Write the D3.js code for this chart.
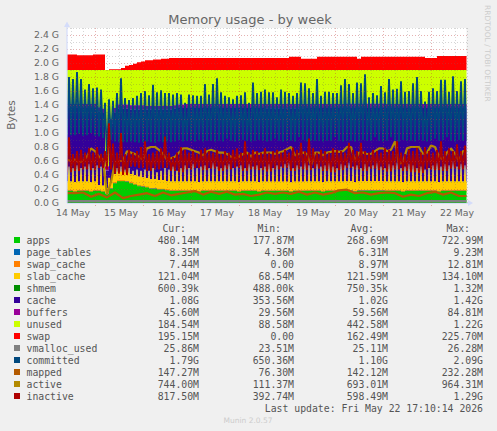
<!DOCTYPE html>
<html>
<head>
<meta charset="utf-8">
<script src="https://cdn.jsdelivr.net/npm/d3@7"></script>
<style>
  html, body { margin: 0; background: #f0f0f0; }
  svg { display: block; }
  text { font-family: "DejaVu Sans", sans-serif; fill: #666; }
  .mono { font-family: "DejaVu Sans Mono", monospace; font-size: 9.8px; fill: #555; }
</style>
</head>
<body>
<script>
// all values in G, one slot = 2 hours
const ramTotal = 1.9;
const apps = [
  .17,.17,.16,.17,.17,.17,.16,.17,.17,.16,
  .13,.20,.28,.31,.31,.30,.28,.26,.24,.23,
  .22,.20,.20,.19,.19,.18,.17,.17,.17,.17,
  .17,.17,.17,.16,.17,.17,.17,.17,.17,.17,
  .17,.17,.17,.16,.17,.17,.17,.17,.16,.17,
  .17,.17,.17,.17,.17,.17,.16,.17,.17,.17,
  .17,.17,.17,.17,.16,.17,.17,.17,.17,.17,
  .17,.17,.16,.17,.17,.17,.17,.17,.17,.17,
  .17,.17,.17,.17,.16,.17,.17,.17,.17,.17,
  .17,.17,.17,.16,.17,.17,.17,.17,.17,.17];
const pageTables = [.006,.006,.006,.006,.006,.005,.006,.007,.006,.006];
const swapCache = [.009,.009,.009,.009,.009,.008,.009,.009,.009,.009];
const slabCache = [.12,.12,.07,.12,.12,.12,.12,.12,.12,.12,.12,.12,.12,.12,.12,.12,.12,.12,.12,.12,.12,.12,.12,.12,.12];
const shmem = [.001,.001,.001,.001,.001];
const cache = [
  1.05,1.05,1.06,1.05,1.05,1.05,1.06,1.05,1.05,1.04,
  .25,.85,.88,.90,.90,.91,.92,.94,.96,.97,
  .98,1.00,1.00,1.01,1.01,1.02,1.03,1.04,1.05,1.05,
  1.05,1.05,1.05,1.06,1.05,1.05,1.05,1.05,1.05,1.05,
  1.05,1.05,1.05,1.06,1.05,1.05,1.05,1.05,1.06,1.05,
  1.05,1.05,1.05,1.05,1.05,1.05,1.06,1.05,1.05,1.05,
  1.05,1.05,1.05,1.05,1.06,1.05,1.05,1.05,1.05,1.05,
  1.05,1.05,1.06,1.05,1.05,1.05,1.05,1.05,1.05,1.05,
  1.05,1.05,1.05,1.05,1.06,1.05,1.05,1.05,1.05,1.05,
  1.05,1.05,1.05,1.06,1.05,1.05,1.05,1.05,1.05,1.05];
const buffers = [.06,.06,.05,.06,.06,.06,.06,.06,.06,.06];
const swap = [
  .22,.22,.22,.21,.21,.21,.21,.22,.22,.22,
  0,.01,.01,.01,.03,.06,.07,.09,.11,.12,
  .14,.14,.15,.15,.16,.16,.17,.17,.17,.17,
  .17,.17,.17,.17,.17,.17,.17,.17,.17,.17,
  .17,.17,.17,.17,.17,.17,.17,.17,.17,.17,
  .17,.17,.17,.17,.17,.17,.19,.19,.19,.16,
  .16,.16,.16,.19,.19,.19,.19,.19,.19,.19,
  .19,.19,.19,.16,.19,.19,.19,.19,.19,.19,
  .19,.19,.19,.19,.19,.19,.19,.19,.19,.19,
  .17,.17,.17,.20,.20,.20,.20,.20,.20,.20];
const slabPeak = [
  .52,.50,.54,.50,.52,.56,.50,.54,.52,.48,
  .36,.44,.50,.52,.48,.50,.46,.48,.46,.48,
  .46,.50,.44,.46,.50,.48,.52,.46,.50,.54,
  .50,.56,.50,.52,.54,.50,.58,.52,.50,.54,
  .56,.50,.52,.54,.50,.56,.52,.54,.50,.52,
  .56,.50,.54,.52,.56,.58,.50,.54,.52,.58,
  .54,.50,.56,.52,.54,.58,.52,.50,.56,.54,
  .58,.52,.54,.50,.56,.52,.54,.58,.52,.50,
  .56,.54,.58,.50,.52,.56,.54,.50,.52,.48,
  .50,.54,.58,.52,.56,.54,.60,.52,.56,.54];
const committedPeak = [
  1.80,1.77,1.87,1.77,1.62,1.70,1.64,1.65,1.62,1.43,
  1.48,1.46,1.57,1.78,1.50,1.47,1.50,1.53,1.57,1.60,
  1.54,1.69,1.58,1.61,1.57,1.57,1.55,1.57,1.55,1.43,
  1.55,1.54,1.53,1.53,1.70,1.55,1.70,1.78,1.58,1.53,
  1.51,1.48,1.53,1.54,1.58,1.43,1.72,1.57,1.59,1.62,
  1.58,1.58,1.51,1.62,1.59,1.57,1.53,1.57,1.72,1.71,
  1.64,1.57,1.77,1.53,1.59,1.59,1.57,1.57,1.68,1.77,
  1.70,1.57,1.72,1.71,1.84,1.51,1.57,1.54,1.67,1.58,
  1.77,1.62,1.63,1.74,1.59,1.60,1.71,1.80,1.60,1.45,
  1.59,1.64,1.60,1.76,1.76,1.59,1.81,1.60,1.74,1.77];
const committedLow = [
  .97,.97,.97,.99,.96,.97,1.00,.96,.95,.93,
  .65,.90,.88,.87,.87,.87,.88,.87,.86,.87,
  .88,.87,.86,.88,.87,.88,.87,.88,.90,.88,
  .89,.89,.88,.90,.88,.89,.89,.88,.89,.88,
  .92,.89,.88,.89,.90,.89,.88,.89,.90,.89,
  .88,.89,.92,.89,.88,.89,.89,.88,.94,.90,
  .88,.89,.89,.89,.88,.89,.89,.94,.89,.88,
  .89,.89,.88,.89,.90,.89,.89,.94,.89,.88,
  .89,.94,.89,.88,.90,.89,.89,.88,.90,.89,
  .88,.89,.92,.89,.90,.94,.89,.88,.90,.89];
const inactivePeak = [
  .94,.70,.74,.76,.72,.78,.72,.80,.70,.74,
  1.14,.85,.72,1.00,.70,.76,.72,.74,.80,.88,
  .70,.72,.74,.78,.95,.72,.66,.72,.80,.76,
  .72,.74,.70,.76,.78,.74,.72,.76,.70,.74,
  .72,.76,.78,.72,.88,.72,.76,.74,.72,.78,
  .72,.74,.76,.72,.76,.72,.79,.76,.86,.74,
  .92,.78,.72,.76,.74,.72,.78,.76,.74,.72,
  .86,.76,.74,.86,.74,.72,.76,.74,.72,.78,
  .76,.74,.88,.72,.70,.76,.74,.79,.72,.80,
  .74,.72,.76,.88,.74,.78,.74,.84,.74,.82];
const inactiveLow = [
  .44,.46,.48,.47,.50,.48,.42,.40,.52,.50,
  .46,.48,.50,.46,.44,.48,.50,.47,.49,.46,
  .48,.50,.46,.48,.47,.45,.48,.50,.46,.48,
  .47,.49,.46,.44,.47,.50,.48,.46,.49,.47,
  .45,.48,.46,.44,.43,.48,.47,.46,.49,.48];
const active = [
  .62,.60,.62,.58,.60,.66,.78,.74,.66,.62,
  .12,.30,.58,.60,.60,.74,.72,.70,.66,.62,
  .78,.80,.80,.76,.70,.62,.64,.66,.72,.78,
  .78,.76,.74,.72,.68,.74,.76,.74,.72,.72,
  .70,.66,.64,.66,.70,.72,.66,.72,.70,.72,
  .72,.72,.70,.72,.74,.77,.80,.68,.70,.72,
  .70,.54,.72,.72,.68,.72,.73,.74,.73,.74,
  .80,.80,.60,.72,.72,.70,.70,.74,.78,.78,
  .74,.76,.88,.56,.58,.78,.80,.80,.80,.70,
  .72,.82,.80,.66,.62,.72,.78,.70,.60,.74];
const mapped = [
  .14,.14,.15,.09,.13,.08,.15,.07,.10,.12,
  .14,.10,.15,.11,.13,.15,.17,.12,.16,.13,
  .16,.12,.13,.10,.12,.15,.13,.15,.13,.16,
  .12,.15,.12,.14,.18,.19,.14,.15,.12,.14,
  .15,.14,.09,.12,.10,.14,.16,.12,.15,.10];
const vmallocUsed = [.024,.024,.025,.025,.026,.025,.025,.026,.025,.025];

const legendNames = ["apps","page_tables","swap_cache","slab_cache","shmem","cache","buffers","unused","swap","vmalloc_used","committed","mapped","active","inactive"];
const legendColors = ["#00cc00","#0066b3","#ff8000","#ffcc00","#008f00","#330099","#990099","#ccff00","#ff0000","#808080","#00487d","#b35a00","#b38a00","#ae0000"];
const curValues = ["480.14M","8.35M","7.44M","121.04M","600.39k","1.08G","45.60M","184.54M","195.15M","25.86M","1.79G","147.27M","744.00M","817.50M"];
const minValues = ["177.87M","4.36M","0.00","68.54M","488.00k","353.56M","29.56M","88.58M","0.00","23.51M","650.36M","76.30M","111.37M","392.74M"];
const avgValues = ["268.69M","6.31M","8.97M","121.59M","750.35k","1.02G","59.56M","442.58M","162.49M","25.11M","1.10G","142.12M","693.01M","598.49M"];
const maxValues = ["722.99M","9.23M","12.81M","134.10M","1.32M","1.42G","84.81M","1.22G","225.70M","26.28M","2.09G","232.28M","964.31M","1.29G"];
const yTicks = [0,.2,.4,.6,.8,1,1.2,1.4,1.6,1.8,2,2.2,2.4];
const dayLabels = [14,15,16,17,18,19,20,21,22];

const width = 497;
const height = 431;
const slots = 100;
const start = Date.UTC(2026, 4, 14, 10);
const hour = 3600000;
const colorOf = d3.scaleOrdinal().domain(legendNames).range(legendColors);

const x = d3.scaleUtc()
    .domain([start, start + 200 * hour])
    .range([67, 467]);
const y = d3.scaleLinear()
    .domain([0, 2.5])
    .range([203, 28]);

const svg = d3.select("body").append("svg")
    .attr("width", width)
    .attr("height", height);

svg.append("clipPath").attr("id", "plot")
    .append("rect").attr("x", 67).attr("y", 28).attr("width", 399.5).attr("height", 175);

// the slab spikes fade out upwards into the cache
const fade = svg.append("linearGradient").attr("id", "fade")
    .attr("gradientUnits", "userSpaceOnUse")
    .attr("x1", 0).attr("x2", 0).attr("y1", y(.33)).attr("y2", y(.58));
[["0%", "#ffcc00"], ["25%", "#e6c238"], ["50%", "#b4a878"], ["80%", "#8a80b0"], ["100%", "#5a45a8"]].forEach(s => {
  fade.append("stop").attr("offset", s[0]).attr("stop-color", s[1]);
});

svg.append("rect")
    .attr("x", 67).attr("y", 28).attr("width", 399.5).attr("height", 175)
    .attr("fill", "#fff");

// stack, the last slot is held up to the right edge
const hold = (arr, i) => arr[Math.min(arr.length - 1, Math.floor(i * arr.length / slots))];
const rows = d3.range(slots + 2).map(i => {
  const r = {
    t: start + i * 2 * hour,
    apps: hold(apps, i),
    page_tables: hold(pageTables, i),
    swap_cache: hold(swapCache, i),
    slab_cache: hold(slabCache, i),
    shmem: hold(shmem, i),
    cache: hold(cache, i),
    buffers: hold(buffers, i),
    swap: hold(swap, i)
  };
  // unused is what is left of the ram
  r.unused = ramTotal - r.apps - r.page_tables - r.swap_cache - r.slab_cache - r.shmem - r.cache - r.buffers;
  return r;
});
const stackKeys = legendNames.slice(0, 9);
const layers = d3.stack().keys(stackKeys)(rows);

const plot = svg.append("g").attr("clip-path", "url(#plot)");

const band = d3.area()
    .curve(d3.curveStep)
    .x(d => x(d.data.t))
    .y0(d => y(d[0]))
    .y1(d => y(d[1]));

// peaks and troughs alternate every hour
const zigzag = (low, peak, phase) => d3.range(slots * 2 + 1).map(k => {
  const i = k >> 1;
  const src = (k % 2) === phase ? peak : low;
  return { t: start + k * hour, v: hold(src, i) };
});

const slabTop = layers[3].map(d => d[1]);
const spikes = zigzag(slabTop.slice(0, slots), slabPeak, 1);

layers.slice().reverse().forEach(layer => {
  if (layer.key === "slab_cache") {
    plot.append("path")
        .datum(spikes)
        .attr("fill", "url(#fade)")
        .attr("d", d3.area().curve(d3.curveStep).x(d => x(d.t)).y0(y(.15)).y1(d => y(d.v)));
  }
  plot.append("path")
      .datum(layer)
      .attr("fill", colorOf(layer.key))
      .attr("d", band);
});

// lines on top
const zigLine = d3.line().x(d => x(d.t)).y(d => y(d.v));
const addLine = (name, data, w) => plot.append("path")
    .datum(data)
    .attr("fill", "none")
    .attr("stroke", colorOf(name))
    .attr("stroke-width", w)
    .attr("stroke-linejoin", "bevel")
    .attr("d", zigLine);
const series = arr => d3.range(arr.length + 1).map(i => ({
  t: start + i * (200 / arr.length) * hour,
  v: arr[Math.min(i, arr.length - 1)]
}));

addLine("vmalloc_used", series(vmallocUsed), 2.5);
addLine("committed", zigzag(committedLow, committedPeak, 1), 1.85);
addLine("mapped", series(mapped), 2.2);
addLine("active", series(active), 2.2);
addLine("inactive", zigzag(inactiveLow, inactivePeak, 1), 1.8);

// grid
const grid = svg.append("g");
const hourTicks = d3.utcHour.range(start, start + 201 * hour, 1).filter(d => d.getUTCHours() % 6 === 0);
grid.selectAll("line.v").data(hourTicks).enter().append("line")
    .attr("x1", d => x(d) + .5).attr("x2", d => x(d) + .5)
    .attr("y1", 28)
    .attr("y2", d => d.getUTCHours() === 0 ? 206 : 203)
    .attr("stroke", d => d.getUTCHours() === 0 ? "rgba(190,60,60,.4)" : "rgba(90,90,90,.25)")
    .attr("stroke-dasharray", "1,2");
grid.selectAll("line.h").data(d3.range(1, 26)).enter().append("line")
    .attr("x1", 67).attr("x2", 469)
    .attr("y1", d => y(d / 10) + .5).attr("y2", d => y(d / 10) + .5)
    .attr("stroke", d => d % 2 === 0 ? "rgba(190,60,60,.4)" : "rgba(90,90,90,.25)")
    .attr("stroke-dasharray", "1,2");

// arrows
svg.append("line").attr("x1", 67).attr("x2", 67).attr("y1", 203).attr("y2", 25)
    .attr("stroke", "#d4dcfa").attr("stroke-width", 1.2);
svg.append("line").attr("x1", 67).attr("x2", 469).attr("y1", 203.5).attr("y2", 203.5)
    .attr("stroke", "#d4dcfa").attr("stroke-width", 1);
svg.append("path").attr("d", d3.line()([[67, 21.5], [70, 27], [64, 27]]) + "Z").attr("fill", "#d4dcfa");
svg.append("path").attr("d", d3.line()([[473, 203], [468, 200], [468, 206]]) + "Z").attr("fill", "#d4dcfa");

// axes
const yAxis = d3.axisLeft(y)
    .tickValues(yTicks)
    .tickSize(0)
    .tickPadding(8)
    .tickFormat(d => d.toFixed(1) + " G");
const yG = svg.append("g").attr("transform", "translate(67,0)").call(yAxis);
yG.select(".domain").remove();
yG.selectAll("text").attr("font-size", 9.3).style("font-family", '"DejaVu Sans", sans-serif');

const xAxis = d3.axisBottom(x)
    .tickValues(dayLabels.map(d => Date.UTC(2026, 4, d, 12)))
    .tickSize(0)
    .tickPadding(6)
    .tickFormat(d3.utcFormat("%-d May"));
const xG = svg.append("g").attr("transform", "translate(1.5,203)").call(xAxis);
xG.select(".domain").remove();
xG.selectAll("text").attr("font-size", 9.3).style("font-family", '"DejaVu Sans", sans-serif');

// titles
svg.append("text").attr("x", 250).attr("y", 24).attr("text-anchor", "middle")
    .attr("font-size", 13).text("Memory usage - by week");
svg.append("text").attr("transform", "translate(15,115) rotate(-90)")
    .attr("text-anchor", "middle").attr("font-size", 10.5).text("Bytes");
svg.append("text").attr("transform", "translate(485,5) rotate(90)")
    .attr("font-size", 7.5).style("fill", "#ccc").text("RRDTOOL / TOBI OETIKER");
svg.append("text").attr("x", 248).attr("y", 423).attr("text-anchor", "middle")
    .attr("font-size", 7.5).style("fill", "#ccc").text("Munin 2.0.57");

// legend
const headers = [["Cur:", 186], ["Min:", 281], ["Avg:", 374], ["Max:", 470]];
svg.selectAll("text.head").data(headers).enter().append("text")
    .attr("class", "mono").attr("x", d => d[1]).attr("y", 232)
    .attr("text-anchor", "end").text(d => d[0]);

const rowY = i => 240 + i * 12;
const legend = svg.selectAll("g.row").data(legendNames).enter().append("g");
legend.append("rect")
    .attr("x", 14).attr("y", (d, i) => rowY(i) - 3).attr("width", 6).attr("height", 6)
    .attr("fill", d => colorOf(d));
legend.append("text").attr("class", "mono")
    .attr("x", 26.5).attr("y", (d, i) => rowY(i) + 3.5).text(d => d);
[[curValues, 199], [minValues, 294], [avgValues, 388], [maxValues, 483]].forEach(col => {
  legend.append("text").attr("class", "mono")
      .attr("x", col[1]).attr("y", (d, i) => rowY(i) + 3.5)
      .attr("text-anchor", "end").text((d, i) => col[0][i]);
});
svg.append("text").attr("class", "mono").attr("x", 483).attr("y", 411.5)
    .attr("text-anchor", "end").text("Last update: Fri May 22 17:10:14 2026");
</script>
</body>
</html>
